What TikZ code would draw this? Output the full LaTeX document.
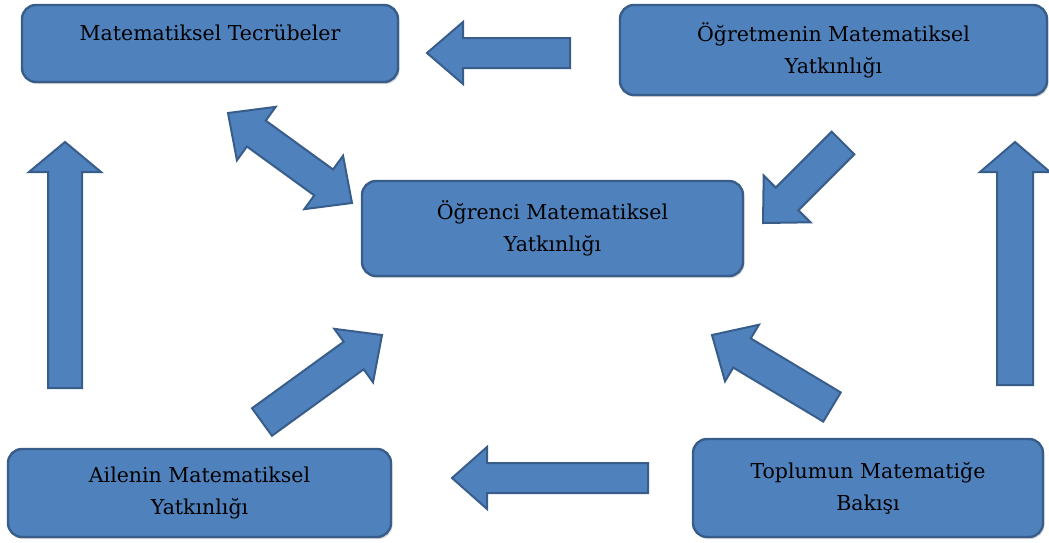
\documentclass[tikz,border=0pt]{standalone}
\usepackage{fontspec}
\setmainfont{DejaVu Serif}
\usetikzlibrary{calc,shadows}
\definecolor{boxfill}{HTML}{4F81BD}
\definecolor{boxline}{HTML}{385D8A}
\tikzset{
  box/.style={rounded corners=14pt, fill=boxfill, draw=boxline, line width=2.4pt,
    inner sep=0pt, align=center, font=\fontsize{20.5}{32}\selectfont,
    drop shadow={shadow xshift=1.5pt, shadow yshift=-2pt, opacity=0.35, fill=black!45}},
  blockarr/.style={fill=boxfill, draw=boxline, line width=2pt, line join=miter}
}
% single block arrow: #1 tail, #2 tip, #3 shaft half width, #4 head half width, #5 head length
\newcommand{\blockarrow}[5]{%
  \coordinate (#1#2b) at ($(#2)!#5!(#1)$);
  \draw[blockarr]
    ($(#1)!#3!90:(#2)$) -- ($(#1#2b)!#3!90:(#2)$) -- ($(#1#2b)!#4!90:(#2)$) --
    (#2) --
    ($(#1#2b)!#4!-90:(#2)$) -- ($(#1#2b)!#3!-90:(#2)$) -- ($(#1)!#3!-90:(#2)$) -- cycle;
}
% double block arrow between #1 and #2
\newcommand{\doubleblockarrow}[5]{%
  \coordinate (#1#2b1) at ($(#1)!#5!(#2)$);
  \coordinate (#1#2b2) at ($(#2)!#5!(#1)$);
  \draw[blockarr]
    (#1) -- ($(#1#2b1)!#4!90:(#2)$) -- ($(#1#2b1)!#3!90:(#2)$) --
    ($(#1#2b2)!#3!90:(#2)$) -- ($(#1#2b2)!#4!90:(#2)$) -- (#2) --
    ($(#1#2b2)!#4!-90:(#2)$) -- ($(#1#2b2)!#3!-90:(#2)$) --
    ($(#1#2b1)!#3!-90:(#2)$) -- ($(#1#2b1)!#4!-90:(#2)$) -- cycle;
}
\begin{document}
\begin{tikzpicture}[x=1pt,y=-1pt]
\useasboundingbox (0,0) rectangle (1049,542);
% boxes
\node[box, minimum width=376pt, text height=35.5pt, text depth=41.5pt] (A) at (210,43.5) {Matematiksel Tecrübeler};
\node[box, minimum width=427pt, minimum height=90pt] (B) at (833.5,50) {Öğretmenin Matematiksel\\Yatkınlığı};
\node[box, minimum width=381pt, minimum height=95pt] (C) at (552.5,228.5) {Öğrenci Matematiksel\\Yatkınlığı};
\node[box, minimum width=383pt, minimum height=88pt] (D) at (199.5,493) {Ailenin Matematiksel\\Yatkınlığı};
\node[box, minimum width=350pt, minimum height=98pt] (E) at (868,488) {Toplumun Matematiğe\\Bakışı};
% arrow end points
\coordinate (t1) at (570,53);   \coordinate (p1) at (427,53);
\coordinate (t2) at (648,478);  \coordinate (p2) at (452,478);
\coordinate (t3) at (65,388);   \coordinate (p3) at (65,142);
\coordinate (t4) at (1015,385); \coordinate (p4) at (1015,142);
\coordinate (t5) at (843,143);  \coordinate (p5) at (763,223);
\coordinate (t6) at (262,422);  \coordinate (p6) at (382,335);
\coordinate (t7) at (832,407);  \coordinate (p7) at (712,335);
\coordinate (d1) at (228,113);  \coordinate (d2) at (352,203);
% arrows
\blockarrow{t1}{p1}{15pt}{31pt}{36pt}
\blockarrow{t2}{p2}{15pt}{31pt}{35pt}
\blockarrow{t3}{p3}{17pt}{36pt}{30pt}
\blockarrow{t4}{p4}{18pt}{35pt}{30pt}
\blockarrow{t5}{p5}{16pt}{33pt}{34pt}
\blockarrow{t6}{p6}{17pt}{33pt}{35pt}
\blockarrow{t7}{p7}{17pt}{33pt}{35pt}
\doubleblockarrow{d1}{d2}{16pt}{33pt}{35pt}
\end{tikzpicture}
\end{document}
